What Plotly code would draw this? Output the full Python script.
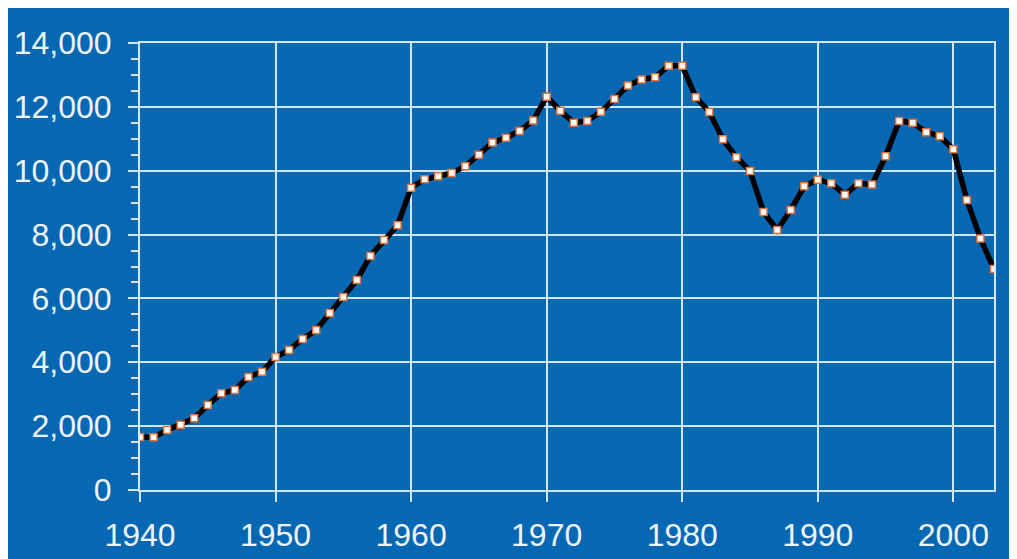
import plotly.graph_objects as go

years = list(range(1940, 2004))
values = [
    1660, 1650, 1880, 2040, 2245, 2660, 3030, 3130, 3540, 3700,
    4165, 4385, 4730, 5010, 5540, 6045, 6580, 7330, 7830, 8290,
    9470, 9730, 9825, 9930, 10140, 10500, 10880, 11035, 11245, 11570,
    12320, 11880, 11505, 11555, 11850, 12245, 12665, 12860, 12925, 13290,
    13290, 12300, 11840, 10985, 10420, 9990, 8710, 8145, 8770, 9510,
    9720, 9605, 9250, 9605, 9565, 10450, 11555, 11505, 11205, 11080,
    10670, 9085, 7875, 6920,
]

BG = "#0667b3"
GRID = "#d2e5f6"
TXT = "#eef4fb"

fig = go.Figure()
fig.add_trace(go.Scatter(
    x=years, y=values, mode="lines+markers",
    line=dict(color="black", width=5.5),
    marker=dict(symbol="square", size=7, color="white",
                line=dict(color="#e0733a", width=1.5)),
    showlegend=False, hoverinfo="x+y",
))

fig.update_layout(
    width=1009, height=551,
    paper_bgcolor=BG, plot_bgcolor=BG,
    margin=dict(l=132, r=23, t=35, b=69, autoexpand=False),
    font=dict(family="Liberation Sans, Arial, sans-serif", size=32, color=TXT),
)
fig.update_xaxes(
    range=[1940, 2003], tickvals=[1940, 1950, 1960, 1970, 1980, 1990, 2000],
    tickformat="d", showgrid=True, gridcolor=GRID, gridwidth=2,
    ticks="outside", ticklen=10, tickwidth=2, tickcolor=GRID,
    showline=True, linecolor=GRID, linewidth=2, mirror=True,
    zeroline=False, ticklabelstandoff=6, automargin=False,
)
fig.update_yaxes(
    range=[0, 14000], dtick=2000, tickformat=",d",
    showgrid=True, gridcolor=GRID, gridwidth=2,
    ticks="outside", ticklen=10, tickwidth=2, tickcolor=GRID,
    minor=dict(dtick=500, ticks="outside", ticklen=7, tickwidth=2,
               tickcolor=GRID, showgrid=False),
    showline=True, linecolor=GRID, linewidth=2, mirror=True,
    zeroline=False, ticklabelstandoff=10, automargin=False,
)

fig.write_html("out.html")
